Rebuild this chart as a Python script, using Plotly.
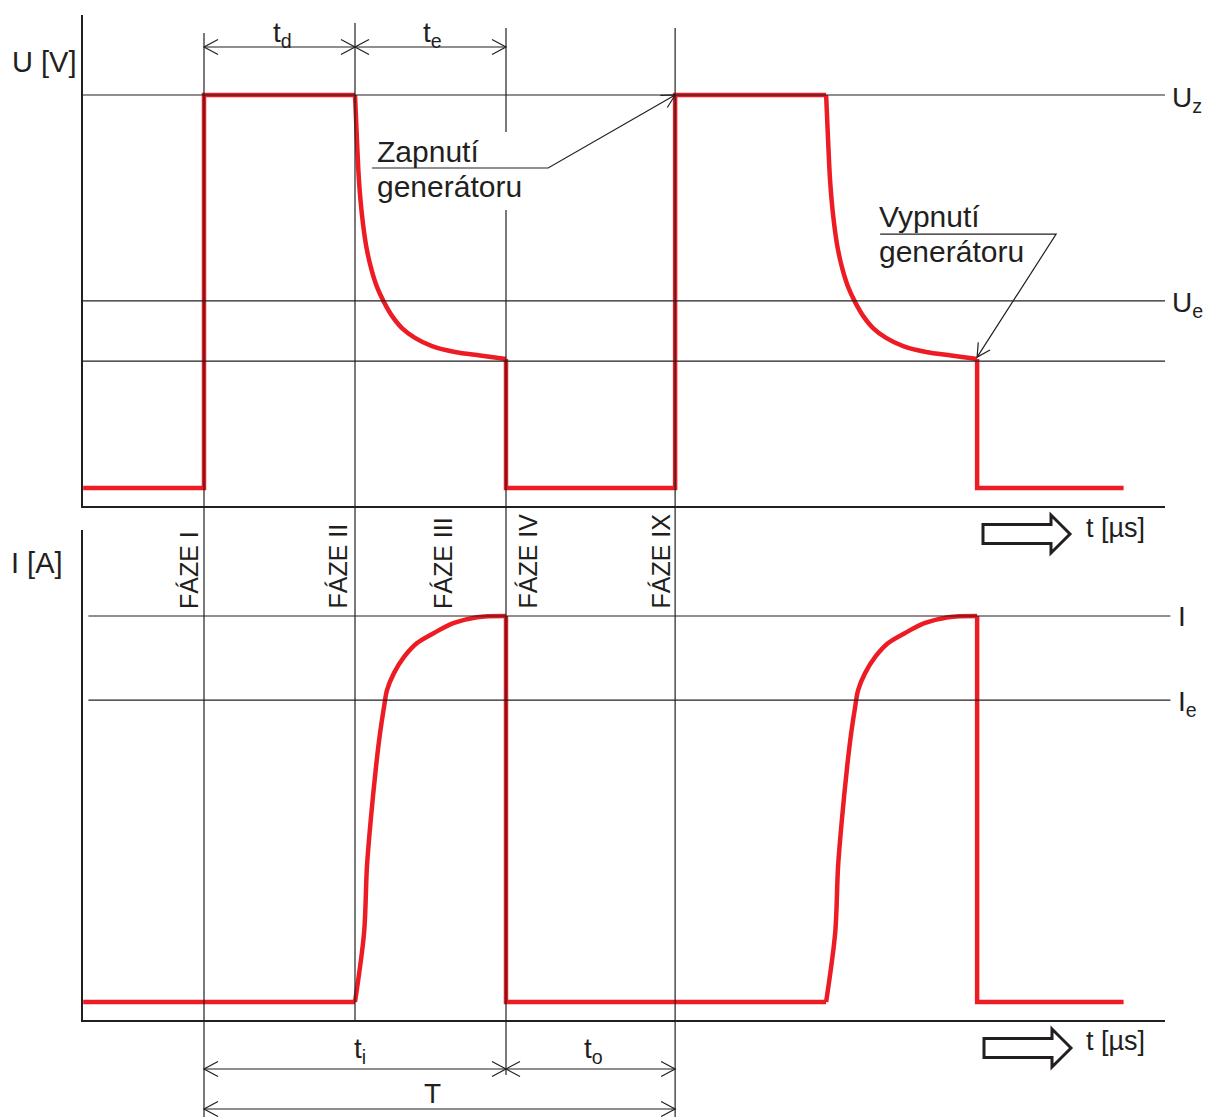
import math
import plotly.graph_objects as go

# ---------------- data (time in µs, U in V, I in A; schematic values) ----------------
switch_t = [0.0, 10.0, 20.0, 31.2, 41.2, 51.2]      # switching instants
phase_line_t = [0.0, 10.0, 20.0, 31.2]             # FÁZE I, FÁZE II, FÁZE IV, FÁZE IX boundaries
phase_names = ["FÁZE I", "FÁZE II", "FÁZE III", "FÁZE IV", "FÁZE IX"]

# voltage: rectangular parts
u_step_t = [-8.0, 0.0, 0.0, 10.0, None, 20.0, 20.0, 31.2, 31.2, 41.2, None, 51.2, 51.2, 60.9]
u_step_v = [0, 0, 100, 100, None, 32.8, 0, 0, 100, 100, None, 32.8, 0, 0]
# voltage: decay during erosion (two pulses)
u_decay_t = [10.0, 10.13, 10.26, 10.46, 10.73, 11.06, 11.46, 11.92, 12.45, 13.11, 13.97, 15.10, 16.62, 18.28, 20.0,
             None,
             41.2, 41.33, 41.46, 41.66, 41.93, 42.26, 42.66, 43.12, 43.65, 44.31, 45.17, 46.30, 47.82, 49.48, 51.2]
u_decay_v = [100, 88.5, 78.4, 69.5, 61.8, 56.0, 51.1, 47.3, 43.8, 40.7, 38.2, 36.1, 34.6, 33.7, 32.8,
             None,
             100, 88.5, 78.4, 69.5, 61.8, 56.0, 51.1, 47.3, 43.8, 40.7, 38.2, 36.1, 34.6, 33.7, 32.8]

# current: rectangular parts
i_step_t = [-8.0, 10.0, None, 20.0, 20.0, 41.2, None, 51.2, 51.2, 60.9]
i_step_v = [0, 0, None, 100, 0, 0, None, 100, 0, 0]
# current: rise during discharge (two pulses)
i_rise_t = [10.0, 10.60, 10.79, 11.06, 11.39, 11.66, 11.92, 12.12, 12.58, 13.25, 14.11, 15.23, 16.56, 18.08, 20.0,
            None,
            41.2, 41.80, 41.99, 42.26, 42.59, 42.86, 43.12, 43.32, 43.78, 44.45, 45.31, 46.43, 47.76, 49.28, 51.2]
i_rise_v = [0, 17.9, 35.0, 47.9, 60.9, 69.7, 76.4, 80.8, 85.2, 89.4, 93.0, 95.6, 98.2, 99.7, 100,
            None,
            0, 17.9, 35.0, 47.9, 60.9, 69.7, 76.4, 80.8, 85.2, 89.4, 93.0, 95.6, 98.2, 99.7, 100]

u_levels = [100.0, 47.6, 32.3]          # U_z, U_e, end-of-erosion level
u_level_labels = ["U<sub>z</sub>", "U<sub>e</sub>"]
i_levels = [100.0, 78.2]                # I, I_e
i_level_labels = ["I", "I<sub>e</sub>"]

dims_top = [("t<sub>d</sub>", 0.0, 10.0), ("t<sub>e</sub>", 10.0, 20.0)]
dims_bot = [("t<sub>i</sub>", 0.0, 20.0), ("t<sub>o</sub>", 20.0, 31.2)]
dims_T = [("T", 0.0, 31.2)]

# ---------------- styles / geometry ----------------
INK = "#231f20"
RED = "#ed1c24"
FONT = "Liberation Sans, Arial, Helvetica, sans-serif"

W, H = 1208, 1117

def pX(p):
    return p / W

def pY(p):
    return 1 - p / H

T0_PX, T_SCALE = 204.0, 15.1          # pixel of t = 0, pixels per µs
U0_PX, U_SCALE = 488.0, 3.93
I0_PX, I_SCALE = 1002.0, 3.86
X_BOX = (83, 1165)
U_BOX = (15, 506)
I_BOX = (530, 1020)

x_range = [(X_BOX[0] - T0_PX) / T_SCALE, (X_BOX[1] - T0_PX) / T_SCALE]
u_range = [(U0_PX - U_BOX[1]) / U_SCALE, (U0_PX - U_BOX[0]) / U_SCALE]
i_range = [(I0_PX - I_BOX[1]) / I_SCALE, (I0_PX - I_BOX[0]) / I_SCALE]

fig = go.Figure()
red_line = dict(color=RED, width=4.5)
red_curve = dict(color=RED, width=4.5, shape="spline", smoothing=0.9)
fig.add_trace(go.Scatter(x=u_step_t, y=u_step_v, xaxis="x", yaxis="y", mode="lines",
                         line=red_line, hoverinfo="skip", cliponaxis=False, connectgaps=False))
fig.add_trace(go.Scatter(x=u_decay_t, y=u_decay_v, xaxis="x", yaxis="y", mode="lines",
                         line=red_curve, hoverinfo="skip", cliponaxis=False, connectgaps=False))
fig.add_trace(go.Scatter(x=i_step_t, y=i_step_v, xaxis="x2", yaxis="y2", mode="lines",
                         line=red_line, hoverinfo="skip", cliponaxis=False, connectgaps=False))
fig.add_trace(go.Scatter(x=i_rise_t, y=i_rise_v, xaxis="x2", yaxis="y2", mode="lines",
                         line=red_curve, hoverinfo="skip", cliponaxis=False, connectgaps=False))

ax_common = dict(showline=True, linewidth=2, linecolor=INK, ticks="", showticklabels=False,
                 showgrid=False, zeroline=False, fixedrange=True)

shapes = []
annotations = []

def thin(**kw):
    d = dict(type="line", line=dict(color=INK, width=1.2), layer="above")
    d.update(kw)
    return d

# level lines
for v in u_levels:
    shapes.append(thin(xref="x domain", yref="y", x0=0, x1=1, y0=v, y1=v))
for v in i_levels:
    shapes.append(thin(xref="x2 domain", yref="y2", x0=0.005, x1=1.005, y0=v, y1=v))

# vertical phase lines (pixel extents)
vert_extents = {0.0: [(33, 1117)], 10.0: [(23, 1020)], 20.0: [(28, 132), (210, 1075)], 31.2: [(28, 1117)]}
for t in phase_line_t:
    for a, b in vert_extents[t]:
        shapes.append(thin(xref="x", yref="paper", x0=t, x1=t, y0=pY(a), y1=pY(b)))

def chevron(xref, xa, yref, ya, dx, dy, L=14.0, Wd=7.5):
    n = math.hypot(dx, dy)
    ux, uy = dx / n, dy / n
    nx, ny = -uy, ux
    p1 = (-L * ux + Wd * nx, -L * uy + Wd * ny)
    p2 = (-L * ux - Wd * nx, -L * uy - Wd * ny)
    path = "M {:.2f} {:.2f} L 0 0 L {:.2f} {:.2f}".format(p1[0], -p1[1], p2[0], -p2[1])
    return dict(type="path", xref=xref, yref=yref, xsizemode="pixel", ysizemode="pixel",
                xanchor=xa, yanchor=ya, path=path, line=dict(color=INK, width=1.2), layer="above")

def dimension(label, ta, tb, y_px, label_t, label_y_px):
    shapes.append(thin(xref="x", yref="paper", x0=ta, x1=tb, y0=pY(y_px), y1=pY(y_px)))
    shapes.append(chevron("x", ta, "paper", pY(y_px), -1, 0))
    shapes.append(chevron("x", tb, "paper", pY(y_px), 1, 0))
    annotations.append(dict(text=label, x=label_t, y=pY(label_y_px), xref="x", yref="paper",
                            showarrow=False, xanchor="center", yanchor="middle",
                            font=dict(family=FONT, size=28, color=INK)))

dimension(*dims_top[0], 47, 5.2, 35)
dimension(*dims_top[1], 47, 15.1, 35)
dimension(*dims_bot[0], 1069, 10.3, 1050)
dimension(*dims_bot[1], 1069, 25.8, 1050)
dimension(*dims_T[0], 1109, 15.1, 1093)

# leader lines with arrows
# "Zapnutí generátoru" -> start of second pulse
shapes.append(dict(type="path", xref="x", yref="y", xsizemode="pixel", ysizemode="pixel",
                   xanchor=switch_t[3], yanchor=u_levels[0],
                   path="M -303 -73 L -127 -73 L 0 0", line=dict(color=INK, width=1.2), layer="above"))
shapes.append(chevron("x", switch_t[3], "y", u_levels[0], 127, -73, L=13, Wd=7))
# "Vypnutí generátoru" -> end of second erosion
shapes.append(dict(type="path", xref="x", yref="y", xsizemode="pixel", ysizemode="pixel",
                   xanchor=switch_t[5], yanchor=33.3,
                   path="M -97 123 L 79 123 L 0 0", line=dict(color=INK, width=1.2), layer="above"))
shapes.append(chevron("x", switch_t[5], "y", 33.3, -79, 123, L=13, Wd=7))

# hollow time arrows
for tip_x, tip_y in [(1070, 534), (1071, 1048)]:
    shapes.append(dict(type="path", xref="paper", yref="paper", xsizemode="pixel", ysizemode="pixel",
                       xanchor=pX(tip_x), yanchor=pY(tip_y),
                       path="M 0 0 L -19 19 L -19 9.5 L -87 9.5 L -87 -9.5 L -19 -9.5 L -19 -19 Z",
                       line=dict(color=INK, width=3), fillcolor="white", layer="above"))

def text(t, x_px, y_px, size=28, xanchor="left", yanchor="middle", angle=0):
    annotations.append(dict(text=t, x=pX(x_px), y=pY(y_px), xref="paper", yref="paper",
                            showarrow=False, xanchor=xanchor, yanchor=yanchor, textangle=angle,
                            font=dict(family=FONT, size=size, color=INK)))

text("U [V]", 10, 62, size=29)
text("I [A]", 9, 563, size=29)
text("t [µs]", 1084, 528, size=27)
text("t [µs]", 1084, 1041, size=27)

text(u_level_labels[0], 1170, 100, size=28)
text(u_level_labels[1], 1170, 305, size=28)
text(i_level_labels[0], 1176, 616, size=28)
text(i_level_labels[1], 1176, 703, size=28)

text("Zapnutí", 375, 152, size=30)
text("generátoru", 375, 187, size=30)
text("Vypnutí", 877, 217, size=30)
text("generátoru", 877, 252, size=30)

for name, cx in zip(phase_names, [189, 337, 443, 527, 660]):
    text(name, cx, 611, size=25, xanchor="center", yanchor="bottom", angle=-90)

fig.update_layout(
    width=W, height=H, margin=dict(l=0, r=0, t=0, b=0),
    paper_bgcolor="white", plot_bgcolor="white", showlegend=False,
    xaxis=dict(domain=[pX(X_BOX[0]), pX(X_BOX[1])], range=x_range, anchor="y", **ax_common),
    xaxis2=dict(domain=[pX(X_BOX[0]), pX(X_BOX[1])], range=x_range, anchor="y2", matches="x", **ax_common),
    yaxis=dict(domain=[pY(U_BOX[1]), pY(U_BOX[0])], range=u_range, anchor="x", **ax_common),
    yaxis2=dict(domain=[pY(I_BOX[1]), pY(I_BOX[0])], range=i_range, anchor="x2", **ax_common),
    shapes=shapes, annotations=annotations,
)

fig.write_html("out.html", config={"displayModeBar": False},
               post_script="document.body.style.margin='0';document.body.style.overflow='hidden';")
